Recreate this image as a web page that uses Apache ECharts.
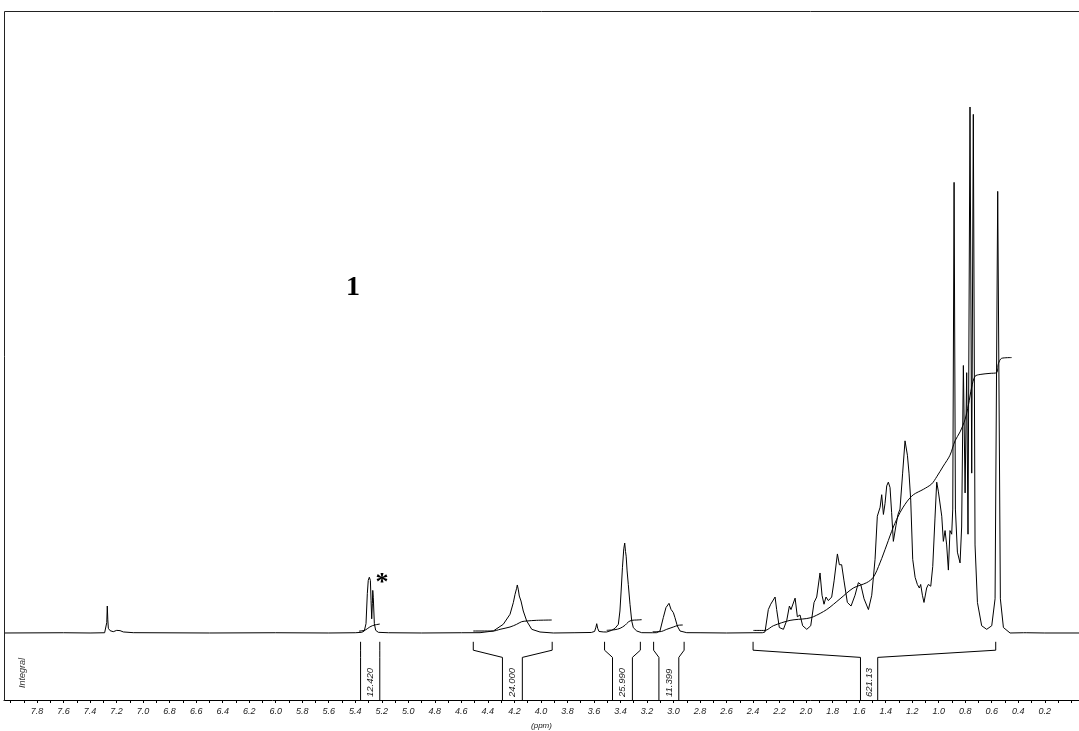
<!DOCTYPE html>
<html>
<head>
<meta charset="utf-8">
<script src="https://cdn.jsdelivr.net/npm/echarts@6/dist/echarts.min.js"></script>
<style>
  html, body { margin: 0; padding: 0; background: #fff; }
  #chart { width: 1079px; height: 731px; }
</style>
</head>
<body>
<div id="chart"></div>
<script>
// 1H NMR spectrum of compound 1: [chemical shift (ppm), intensity (tallest line = 100)]
const spectrum = [
  [8.049, 0], [7.60, 0.05], [7.40, 0], [7.29, 0.05], [7.280, 0.1], [7.274, 2.0], [7.270, 5.13],
  [7.266, 2.5], [7.262, 0.89], [7.249, 0.44], [7.225, 0.25], [7.199, 0.5], [7.185, 0.3],
  [7.174, 0.45], [7.149, 0.2], [7.074, 0.06], [6.5, 0], [6.0, 0.05], [5.6, 0], [5.40, 0.05],
  // olefinic signal (*)
  [5.351, 0.13], [5.332, 0.38], [5.319, 1.77], [5.309, 7.48], [5.302, 10.0], [5.294, 10.6],
  [5.286, 10.0], [5.281, 6.2], [5.276, 2.7], [5.271, 5.6], [5.268, 8.1], [5.264, 6.8],
  [5.256, 1.77], [5.246, 0.51], [5.226, 0.13], [5.15, 0.05], [4.9, 0], [4.60, 0.05],
  // 4.2 ppm
  [4.459, 0.06], [4.359, 0.38], [4.284, 1.65], [4.233, 3.55], [4.208, 5.77], [4.195, 7.35],
  [4.183, 8.5], [4.178, 9.13], [4.170, 8.2], [4.163, 7.03], [4.150, 6.08], [4.133, 4.18],
  [4.107, 2.28], [4.069, 0.70], [4.007, 0.19], [3.906, 0.0], [3.75, 0.05],
  // 3.6 - 3.3 ppm
  [3.62, 0.1], [3.595, 0.3], [3.585, 1.1], [3.579, 1.77], [3.572, 0.9], [3.562, 0.3],
  [3.53, 0.2], [3.504, 0.19], [3.466, 0.51], [3.441, 0.89], [3.416, 1.65], [3.404, 4.18],
  [3.395, 7.98], [3.385, 12.5], [3.375, 16.0], [3.368, 17.1], [3.362, 15.5], [3.357, 14.6],
  [3.350, 11.8], [3.341, 9.25], [3.328, 5.45], [3.315, 2.28], [3.303, 1.01], [3.277, 0.38],
  [3.240, 0.06],
  // 3.1 ppm
  [3.160, 0.05], [3.127, 0.06], [3.102, 0.38], [3.077, 2.92], [3.057, 4.82], [3.034, 5.64],
  [3.019, 4.50], [3.001, 3.87], [2.989, 2.92], [2.971, 1.33], [2.951, 0.38], [2.900, 0.06],
  [2.80, 0.05], [2.60, 0.0], [2.40, 0.05], [2.330, 0.05],
  // aliphatic envelope
  [2.310, 0.2], [2.285, 4.45], [2.267, 5.47], [2.254, 5.13], [2.234, 6.84], [2.222, 4.45],
  [2.202, 1.04], [2.171, 0.70], [2.146, 2.40], [2.126, 5.13], [2.114, 4.45], [2.083, 6.63],
  [2.066, 3.09], [2.046, 3.43], [2.026, 1.38], [1.995, 0.70], [1.965, 1.38], [1.940, 5.81],
  [1.920, 6.84], [1.895, 11.41], [1.880, 7.18], [1.865, 5.47], [1.850, 6.84], [1.832, 6.16],
  [1.807, 6.84], [1.789, 9.91], [1.764, 15.03], [1.749, 12.98], [1.732, 12.98], [1.714, 9.91],
  [1.689, 5.81], [1.661, 5.13], [1.631, 7.18], [1.606, 9.57], [1.588, 9.23], [1.563, 6.50],
  [1.530, 4.45], [1.505, 7.18], [1.480, 14.01], [1.463, 22.20], [1.442, 23.90], [1.430, 26.29],
  [1.417, 22.54], [1.405, 24.59], [1.392, 27.97], [1.380, 28.68], [1.367, 27.65], [1.355, 22.88],
  [1.342, 17.42], [1.322, 20.49], [1.307, 22.54], [1.292, 23.56], [1.272, 30.39], [1.254, 36.53],
  [1.236, 33.80], [1.224, 30.39], [1.211, 25.27], [1.196, 14.01], [1.178, 10.59], [1.161, 9.23],
  [1.146, 8.55], [1.136, 9.23], [1.123, 7.18], [1.111, 5.81], [1.091, 8.55], [1.078, 9.23],
  [1.060, 8.89], [1.045, 12.64], [1.028, 21.85], [1.015, 28.68], [1.003, 26.97], [0.990, 27.31],
  [0.977, 22.20], [0.965, 17.42], [0.952, 19.47], [0.940, 16.74], [0.927, 11.96], [0.915, 19.47],
  [0.902, 18.78], [0.894, 23.56], [0.884, 85.67], [0.874, 23.56], [0.859, 15.37], [0.839, 13.32],
  [0.827, 20.15], [0.814, 50.86], [0.801, 26.63], [0.789, 49.49], [0.779, 18.78], [0.764, 100],
  [0.751, 30.39], [0.739, 98.6], [0.726, 16.74], [0.708, 5.81], [0.676, 1.38], [0.638, 0.70],
  [0.600, 1.38], [0.575, 6.50], [0.555, 83.96], [0.535, 6.50], [0.512, 1.04], [0.462, 0.0],
  [0.36, 0.05], [0.349, 0.3], [0.34, 0.05], [0.2, 0], [-0.058, 0]
];

// running integrals drawn over each integrated region
const integralOlefinic = [
  [5.372, 0.35], [5.33, 0.5], [5.31, 0.8], [5.29, 1.15], [5.27, 1.4], [5.25, 1.55], [5.215, 1.7]
];
const integral42 = [
  [4.510, 0.38], [4.359, 0.38], [4.308, 0.70], [4.233, 1.14], [4.183, 1.65], [4.145, 2.15],
  [4.107, 2.28], [4.032, 2.41], [3.918, 2.47]
];
const integral34 = [
  [3.504, 0.51], [3.441, 0.63], [3.403, 0.89], [3.366, 1.46], [3.341, 2.09], [3.315, 2.41],
  [3.277, 2.47], [3.240, 2.53]
];
const integral31 = [
  [3.157, 0.25], [3.102, 0.25], [3.051, 0.70], [3.001, 1.14], [2.964, 1.46], [2.930, 1.52]
];
const integralAliphatic = [
  [2.398, 0.49], [2.310, 0.49], [2.247, 1.38], [2.121, 2.40], [1.995, 2.75], [1.945, 3.09],
  [1.845, 4.45], [1.744, 6.50], [1.644, 8.55], [1.543, 9.57], [1.493, 10.59], [1.443, 13.32],
  [1.392, 16.74], [1.342, 20.15], [1.292, 22.88], [1.241, 24.93], [1.191, 26.29], [1.116, 27.31],
  [1.053, 28.34], [1.015, 29.70], [0.965, 31.75], [0.915, 33.80], [0.877, 36.53], [0.839, 38.23],
  [0.801, 40.62], [0.776, 43.35], [0.751, 46.77], [0.726, 48.81], [0.688, 49.15], [0.613, 49.36],
  [0.563, 49.49], [0.550, 51.20], [0.525, 52.23], [0.450, 52.36]
];

// integration regions: [outer start, outer end, inner start, inner end] in ppm
const integralRanges = [
  [5.36, 5.215, 5.36, 5.215],
  [4.51, 3.915, 4.29, 4.14],
  [3.52, 3.25, 3.46, 3.31],
  [3.15, 2.92, 3.11, 2.96],
  [2.40, 0.57, 1.59, 1.46]
];
const integralValues = ['12.420', '24.000', '25.990', '11.399', '621.13'];

// axis ticks every 0.1 ppm, labels every 0.2 ppm
const tickValues = [
  0.0, 0.1, 0.2, 0.3, 0.4, 0.5, 0.6, 0.7, 0.8, 0.9, 1.0, 1.1, 1.2, 1.3, 1.4, 1.5, 1.6, 1.7,
  1.8, 1.9, 2.0, 2.1, 2.2, 2.3, 2.4, 2.5, 2.6, 2.7, 2.8, 2.9, 3.0, 3.1, 3.2, 3.3, 3.4, 3.5,
  3.6, 3.7, 3.8, 3.9, 4.0, 4.1, 4.2, 4.3, 4.4, 4.5, 4.6, 4.7, 4.8, 4.9, 5.0, 5.1, 5.2, 5.3,
  5.4, 5.5, 5.6, 5.7, 5.8, 5.9, 6.0, 6.1, 6.2, 6.3, 6.4, 6.5, 6.6, 6.7, 6.8, 6.9, 7.0, 7.1,
  7.2, 7.3, 7.4, 7.5, 7.6, 7.7, 7.8, 7.9, 8.0
];
const tickLabels = [
  0.2, 0.4, 0.6, 0.8, 1.0, 1.2, 1.4, 1.6, 1.8, 2.0, 2.2, 2.4, 2.6, 2.8, 3.0, 3.2, 3.4, 3.6,
  3.8, 4.0, 4.2, 4.4, 4.6, 4.8, 5.0, 5.2, 5.4, 5.6, 5.8, 6.0, 6.2, 6.4, 6.6, 6.8, 7.0, 7.2,
  7.4, 7.6, 7.8
];

const PPM_MIN = -0.058, PPM_MAX = 8.049;
const INK = '#000';
const SANS = '"Liberation Sans", Arial, sans-serif';
const SERIF = '"Liberation Serif", "Times New Roman", serif';

const chart = echarts.init(document.getElementById('chart'), null, { renderer: 'canvas' });

function integralSeries(data) {
  return {
    type: 'line', xAxisIndex: 0, yAxisIndex: 0, data: data,
    showSymbol: false, symbol: 'none', smooth: 0.3, clip: false, silent: true,
    lineStyle: { color: INK, width: 1 }
  };
}

// bracket levels inside the lower strip (0 = axis, 1 = top of strip)
const B_TOP = 0.97, B_OUTER = 0.83, B_INNER = 0.71, B_TEXT = 0.05;

chart.setOption({
  animation: false,
  backgroundColor: '#fff',
  grid: [
    { left: 4, right: 0, top: 11, bottom: 92.74 },
    { left: 4, right: 0, top: 640, height: 61 }
  ],
  xAxis: [
    { gridIndex: 0, type: 'value', min: PPM_MIN, max: PPM_MAX, inverse: true, show: false },
    {
      gridIndex: 1, type: 'value', min: PPM_MIN, max: PPM_MAX, inverse: true,
      name: '(ppm)', nameLocation: 'middle', nameGap: 22,
      nameTextStyle: { fontFamily: SANS, fontSize: 8, fontStyle: 'italic', color: '#222' },
      axisLine: { show: true, onZero: false, lineStyle: { color: INK, width: 1 } },
      axisTick: { show: true, customValues: tickValues, length: 3, lineStyle: { color: INK, width: 1 } },
      axisLabel: {
        show: true, customValues: tickLabels, margin: 7,
        fontFamily: SANS, fontSize: 9, fontStyle: 'italic', color: '#222',
        formatter: v => v.toFixed(1)
      },
      splitLine: { show: false }
    }
  ],
  yAxis: [
    { gridIndex: 0, type: 'value', min: -1, max: 118.25, show: false },
    { gridIndex: 1, type: 'value', min: 0, max: 1, show: false }
  ],
  graphic: [
    {
      type: 'polyline', silent: true, z: 10,
      shape: { points: [[4.5, 701], [4.5, 11.5], [1079, 11.5]] },
      style: { stroke: '#222', lineWidth: 1, fill: null }
    },
    {
      type: 'text', x: 353, y: 288, silent: true,
      style: { text: '1', font: 'bold 28px ' + SERIF, fill: INK, align: 'center', verticalAlign: 'middle' }
    },
    {
      type: 'text', x: 382, y: 583, silent: true,
      style: { text: '*', font: 'bold 26px ' + SERIF, fill: INK, align: 'center', verticalAlign: 'middle' }
    },
    {
      type: 'text', x: 22, y: 688, rotation: Math.PI / 2, silent: true,
      style: { text: 'Integral', font: 'italic 9px ' + SANS, fill: '#333', align: 'left', verticalAlign: 'middle' }
    }
  ],
  series: [
    {
      type: 'line', xAxisIndex: 0, yAxisIndex: 0, data: spectrum,
      showSymbol: false, symbol: 'none', clip: false, silent: true,
      lineStyle: { color: INK, width: 1 }
    },
    integralSeries(integralOlefinic),
    integralSeries(integral42),
    integralSeries(integral34),
    integralSeries(integral31),
    integralSeries(integralAliphatic),
    {
      type: 'custom', xAxisIndex: 1, yAxisIndex: 1, silent: true, clip: false,
      data: integralRanges.map((r, i) => [r[0], 0, i]),
      renderItem: (params, api) => {
        const i = params.dataIndex;
        const r = integralRanges[i];
        const pt = (ppm, lvl) => api.coord([ppm, lvl]);
        const left = [pt(r[0], B_TOP), pt(r[0], B_OUTER), pt(r[2], B_INNER), pt(r[2], 0)];
        const right = [pt(r[1], B_TOP), pt(r[1], B_OUTER), pt(r[3], B_INNER), pt(r[3], 0)];
        const cx = (pt(r[2], 0)[0] + pt(r[3], 0)[0]) / 2;
        const by = pt(r[2], B_TEXT)[1];
        const line = { stroke: INK, lineWidth: 1, fill: null };
        return {
          type: 'group',
          children: [
            { type: 'polyline', shape: { points: left }, style: line },
            { type: 'polyline', shape: { points: right }, style: line },
            {
              type: 'text', x: cx, y: by, rotation: Math.PI / 2,
              style: {
                text: integralValues[i], font: 'italic 9.5px ' + SANS, fill: '#222',
                align: 'left', verticalAlign: 'middle'
              }
            }
          ]
        };
      }
    }
  ]
});
</script>
</body>
</html>
